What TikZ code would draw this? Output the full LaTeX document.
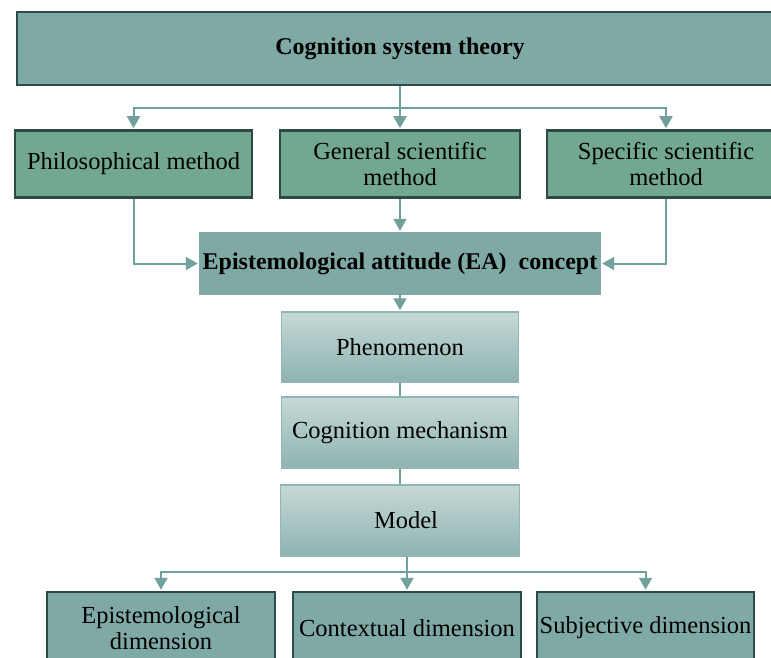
\documentclass[tikz,border=0pt]{standalone}
\usepackage{fontspec}
\setmainfont{Liberation Serif}
\usepackage{xcolor}
\usepackage{tikz}
\usetikzlibrary{positioning,calc}
\usetikzlibrary{arrows.meta,shapes}

\definecolor{boxteal}{HTML}{7FA9A5}
\definecolor{boxgreen}{HTML}{72A88F}
\definecolor{boxedge}{HTML}{2E4A46}
\definecolor{linkteal}{HTML}{72A19D}
\definecolor{stagetop}{HTML}{C6D9D8}
\definecolor{stagebot}{HTML}{8EB3B0}

\tikzstyle{line} = [-{Triangle[length=12pt,width=13pt]}, draw=linkteal, line width=2pt, shorten >=1pt]
\tikzstyle{link} = [draw=linkteal, line width=2pt]
\tikzstyle{txt} = [font=\fontsize{24.5}{26}\selectfont, align=center, inner sep=0pt]
\tikzstyle{outlined} = [txt, rectangle, draw=boxedge, line width=2.5pt]
\tikzstyle{methodbox} = [outlined, fill=boxgreen, minimum width=237pt, minimum height=67pt]
\tikzstyle{stagebox} = [txt, rectangle, draw=boxteal!85, line width=1.5pt, top color=stagetop, bottom color=stagebot, minimum width=237pt, minimum height=70pt]
\tikzstyle{dimbox} = [outlined, fill=boxteal, minimum width=228pt, minimum height=72pt]

\begin{document}
\begin{tikzpicture}[x=1pt,y=-1pt]
    \useasboundingbox (0,0) rectangle (771,658);
    \clip (0,0) rectangle (771,658);
    % theory and the three methods
    \node[outlined, fill=boxteal, minimum width=766pt, minimum height=73pt, font=\fontsize{24}{26}\selectfont\bfseries] (theory) at (400,48.5) {Cognition system theory};
    \node[methodbox] (phil) at (133.5,164) {Philosophical method};
    \node[methodbox, minimum width=240pt] (gen) at (400,164) {General scientific\\method};
    \node[methodbox, minimum width=238pt] (spec) at (666,164) {Specific scientific\\method};
    \node[txt, fill=boxteal, minimum width=402pt, minimum height=63pt, font=\fontsize{24}{26}\selectfont\bfseries] (ea) at (400,263.5) {Epistemological attitude (EA)\ \ concept};
    % stages
    \node[stagebox] (phen) at (400,347) {Phenomenon};
    \node[stagebox, minimum height=71pt] (mech) at (400,432.5) {Cognition mechanism};
    \node[stagebox, minimum width=239pt, minimum height=71pt] (model) at (400,520.5) {\hspace{12pt}Model};
    % dimensions
    \node[dimbox] (dimep) at (161,628) {Epistemological\\dimension};
    \node[dimbox] (dimco) at (407,628) {Contextual dimension};
    \node[dimbox, minimum width=217pt] (dimsu) at (645.5,628) {Subjective dimension};

    \coordinate (split) at (400,108);
    \coordinate (join) at (407,572);
    \draw[link] (theory) -- (split);
    \draw[line] (split) -- (gen);
    \draw[line] (split) -| (phil);
    \draw[line] (split) -| (spec);
    \draw[line] (phil) |- (ea);
    \draw[line] (spec) |- (ea);
    \draw[line] (gen) -- (ea);
    \draw[line] (ea) -- (phen);
    \draw[link] (phen) -- (mech);
    \draw[link] (mech) -- (model);
    \draw[link] (model.south -| join) -- (join);
    \draw[line] (join) -| (dimep);
    \draw[line] (join) -- (dimco);
    \draw[line] (join) -| (dimsu);
\end{tikzpicture}
\end{document}
